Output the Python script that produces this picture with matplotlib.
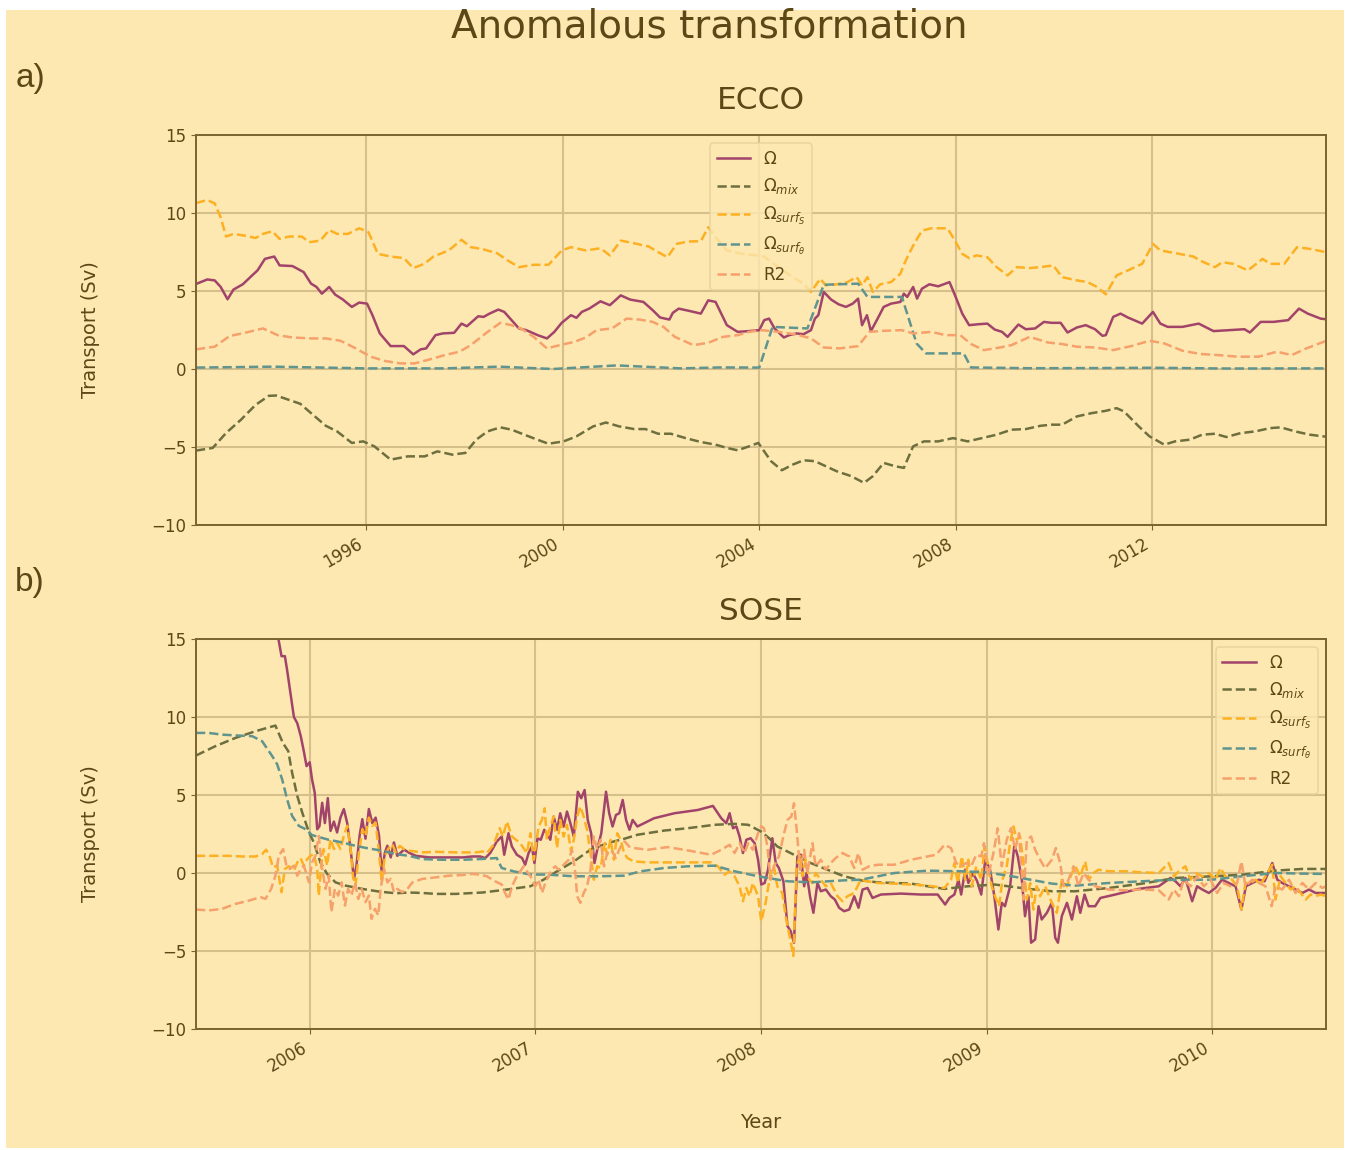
# Anomalous transformation: ECCO and SOSE transport terms
from datetime import datetime, timedelta
import matplotlib
matplotlib.use('Agg')
import matplotlib.pyplot as plt
import matplotlib.dates as mdates
from matplotlib.patches import Rectangle

# ---------------- ECCO (panel a) ----------------
ecco_om_t = [1992.54, 1992.77, 1992.92, 1993.04, 1993.18, 1993.30, 1993.49, 1993.68, 1993.79, 1993.94,
             1994.13, 1994.24, 1994.50, 1994.73, 1994.88, 1994.99, 1995.10, 1995.25, 1995.37, 1995.52,
             1995.71, 1995.86, 1996.02, 1996.13, 1996.28, 1996.50, 1996.77, 1996.96, 1997.11, 1997.22,
             1997.41, 1997.56, 1997.79, 1997.94, 1998.05, 1998.28, 1998.39, 1998.51, 1998.69, 1998.81,
             1999.11, 1999.26, 1999.49, 1999.68, 1999.83, 1999.98, 2000.17, 2000.28, 2000.39, 2000.54,
             2000.77, 2000.96, 2001.18, 2001.37, 2001.64, 2001.83, 2001.98, 2002.17, 2002.24, 2002.36,
             2002.58, 2002.81, 2002.96, 2003.11, 2003.34, 2003.56, 2003.79, 2004.00, 2004.10, 2004.20,
             2004.31, 2004.50, 2004.61, 2004.76, 2004.90, 2005.05, 2005.13, 2005.20, 2005.31, 2005.46,
             2005.61, 2005.76, 2005.90, 2006.01, 2006.09, 2006.19, 2006.27, 2006.39, 2006.53, 2006.68,
             2006.87, 2006.94, 2007.01, 2007.13, 2007.21, 2007.31, 2007.46, 2007.64, 2007.87, 2008.01,
             2008.13, 2008.27, 2008.46, 2008.64, 2008.79, 2008.94, 2009.05, 2009.27, 2009.42, 2009.61,
             2009.79, 2009.94, 2010.13, 2010.27, 2010.46, 2010.64, 2010.83, 2010.98, 2011.05, 2011.20,
             2011.35, 2011.50, 2011.79, 2012.01, 2012.16, 2012.31, 2012.61, 2012.94, 2013.24, 2013.57,
             2013.87, 2013.98, 2014.20, 2014.46, 2014.76, 2014.98, 2015.16, 2015.42, 2015.53]
ecco_om = [5.45, 5.74, 5.68, 5.26, 4.47, 5.09, 5.43, 6.00, 6.32, 7.06,
           7.21, 6.64, 6.60, 6.21, 5.47, 5.26, 4.83, 5.26, 4.77, 4.47,
           3.98, 4.26, 4.19, 3.45, 2.28, 1.47, 1.47, 0.94, 1.26, 1.32,
           2.17, 2.28, 2.32, 2.91, 2.74, 3.38, 3.34, 3.55, 3.81, 3.66,
           2.60, 2.49, 2.17, 1.96, 2.38, 2.96, 3.45, 3.28, 3.66, 3.87,
           4.34, 4.09, 4.72, 4.45, 4.30, 3.77, 3.30, 3.17, 3.60, 3.87,
           3.72, 3.55, 4.40, 4.30, 2.81, 2.38, 2.43, 2.49, 3.13, 3.23,
           2.60, 2.02, 2.17, 2.28, 2.23, 2.49, 3.23, 3.45, 4.94, 4.45,
           4.15, 3.98, 4.19, 4.51, 2.81, 3.45, 2.43, 3.13, 3.98, 4.19,
           4.30, 4.83, 4.62, 5.26, 4.51, 5.15, 5.43, 5.30, 5.57, 4.51,
           3.55, 2.81, 2.87, 2.91, 2.53, 2.38, 2.06, 2.85, 2.55, 2.60,
           3.02, 2.96, 2.96, 2.34, 2.66, 2.81, 2.55, 2.13, 2.17, 3.34,
           3.55, 3.30, 2.91, 3.66, 2.91, 2.70, 2.70, 2.91, 2.43, 2.49,
           2.55, 2.34, 3.02, 3.02, 3.13, 3.87, 3.55, 3.23, 3.19]

ecco_mix_t = [1992.54, 1992.88, 1993.15, 1993.45, 1993.75, 1994.02, 1994.17, 1994.43, 1994.66, 1994.88,
              1995.18, 1995.41, 1995.71, 1995.94, 1996.17, 1996.50, 1996.85, 1997.19, 1997.45, 1997.75,
              1998.02, 1998.24, 1998.47, 1998.73, 1998.96, 1999.22, 1999.45, 1999.71, 2000.02, 2000.28,
              2000.62, 2000.88, 2001.15, 2001.45, 2001.68, 2001.94, 2002.20, 2002.50, 2002.81, 2003.11,
              2003.34, 2003.56, 2003.79, 2003.98, 2004.24, 2004.46, 2004.68, 2004.90, 2005.13, 2005.35,
              2005.57, 2005.87, 2006.13, 2006.31, 2006.53, 2006.76, 2006.94, 2007.13, 2007.35, 2007.64,
              2007.94, 2008.24, 2008.53, 2008.83, 2009.13, 2009.42, 2009.72, 2009.94, 2010.16, 2010.46,
              2010.76, 2011.05, 2011.27, 2011.42, 2011.72, 2011.94, 2012.24, 2012.46, 2012.76, 2013.01,
              2013.27, 2013.50, 2013.79, 2014.09, 2014.39, 2014.61, 2014.90, 2015.20, 2015.53]
ecco_mix = [-5.23, -5.06, -4.10, -3.26, -2.30, -1.72, -1.70, -1.98, -2.23, -2.83,
            -3.64, -4.00, -4.74, -4.64, -4.96, -5.81, -5.60, -5.60, -5.28, -5.49,
            -5.38, -4.53, -4.00, -3.74, -3.89, -4.21, -4.49, -4.79, -4.64, -4.32,
            -3.68, -3.43, -3.68, -3.85, -3.85, -4.15, -4.15, -4.43, -4.68, -4.85,
            -5.06, -5.21, -4.96, -4.74, -5.91, -6.49, -6.13, -5.85, -5.91, -6.23,
            -6.55, -6.87, -7.30, -6.87, -6.02, -6.23, -6.34, -4.96, -4.64, -4.64,
            -4.43, -4.64, -4.43, -4.21, -3.89, -3.85, -3.64, -3.57, -3.57, -3.04,
            -2.83, -2.68, -2.51, -2.72, -3.68, -4.32, -4.85, -4.64, -4.53, -4.21,
            -4.15, -4.36, -4.11, -4.00, -3.79, -3.74, -4.00, -4.21, -4.34]

ecco_ss_t = [1992.54, 1992.77, 1992.92, 1993.04, 1993.15, 1993.30, 1993.53, 1993.75, 1993.90, 1994.09,
             1994.24, 1994.43, 1994.69, 1994.84, 1995.07, 1995.25, 1995.41, 1995.63, 1995.86, 1996.05,
             1996.24, 1996.50, 1996.77, 1996.96, 1997.18, 1997.37, 1997.68, 1997.94, 1998.13, 1998.35,
             1998.66, 1998.88, 1999.11, 1999.41, 1999.71, 1999.98, 2000.17, 2000.47, 2000.77, 2000.96,
             2001.18, 2001.45, 2001.75, 2001.94, 2002.13, 2002.32, 2002.54, 2002.81, 2002.96, 2003.11,
             2003.34, 2003.64, 2003.94, 2004.10, 2004.39, 2004.68, 2004.90, 2005.05, 2005.24, 2005.35,
             2005.57, 2005.79, 2005.98, 2006.09, 2006.20, 2006.31, 2006.46, 2006.68, 2006.87, 2006.98,
             2007.13, 2007.31, 2007.50, 2007.83, 2007.98, 2008.13, 2008.27, 2008.42, 2008.64, 2008.83,
             2009.05, 2009.24, 2009.50, 2009.72, 2009.98, 2010.16, 2010.46, 2010.68, 2010.87, 2011.05,
             2011.27, 2011.50, 2011.79, 2012.01, 2012.16, 2012.46, 2012.83, 2013.01, 2013.27, 2013.42,
             2013.64, 2013.94, 2014.24, 2014.39, 2014.68, 2014.94, 2015.20, 2015.53]
ecco_ss = [10.64, 10.83, 10.62, 9.72, 8.49, 8.66, 8.55, 8.40, 8.66, 8.83,
           8.34, 8.49, 8.49, 8.13, 8.23, 8.91, 8.66, 8.66, 9.02, 8.77,
           7.38, 7.21, 7.11, 6.47, 6.74, 7.21, 7.60, 8.28, 7.81, 7.70,
           7.43, 6.96, 6.53, 6.68, 6.68, 7.60, 7.81, 7.60, 7.74, 7.28,
           8.23, 8.06, 7.85, 7.49, 7.17, 8.02, 8.17, 8.19, 9.09, 8.45,
           7.60, 7.38, 7.28, 7.20, 6.53, 5.89, 5.47, 4.94, 5.79, 5.36,
           5.43, 5.57, 5.89, 5.36, 5.89, 4.94, 5.43, 5.57, 6.11, 6.96,
           7.91, 8.87, 9.02, 9.02, 8.23, 7.38, 7.11, 7.28, 7.17, 6.53,
           6.00, 6.53, 6.47, 6.53, 6.64, 5.89, 5.68, 5.57, 5.26, 4.79,
           6.00, 6.32, 6.74, 8.02, 7.60, 7.43, 7.21, 6.89, 6.53, 6.85,
           6.74, 6.32, 7.06, 6.74, 6.74, 7.81, 7.70, 7.49]

ecco_st_t = [1992.54, 1994.10, 1996.00, 1997.60, 1998.70, 1999.80, 2001.10, 2002.40, 2003.20, 2004.00,
             2004.27, 2004.98, 2005.31, 2006.01, 2006.20, 2006.90, 2007.20, 2007.39, 2008.16, 2008.31,
             2009.50, 2011.00, 2012.00, 2013.50, 2015.53]
ecco_st = [0.09, 0.15, 0.04, 0.04, 0.15, 0.00, 0.23, 0.04, 0.10, 0.09,
           2.70, 2.60, 5.40, 5.47, 4.62, 4.62, 1.64, 1.00, 1.00, 0.10,
           0.05, 0.06, 0.08, 0.03, 0.04]

ecco_r2_t = [1992.54, 1992.92, 1993.22, 1993.53, 1993.90, 1994.20, 1994.50, 1994.88, 1995.18, 1995.48,
             1995.79, 1996.09, 1996.39, 1996.69, 1996.99, 1997.30, 1997.60, 1997.90, 1998.13, 1998.43,
             1998.73, 1998.96, 1999.18, 1999.41, 1999.68, 1999.94, 2000.24, 2000.47, 2000.69, 2001.00,
             2001.30, 2001.56, 2001.83, 2002.05, 2002.28, 2002.66, 2002.96, 2003.26, 2003.56, 2003.79,
             2004.05, 2004.39, 2004.76, 2005.05, 2005.31, 2005.64, 2006.01, 2006.24, 2006.53, 2006.90,
             2007.13, 2007.50, 2007.79, 2008.09, 2008.31, 2008.57, 2008.90, 2009.13, 2009.50, 2009.87,
             2010.16, 2010.46, 2010.83, 2011.20, 2011.57, 2011.94, 2012.24, 2012.61, 2012.98, 2013.35,
             2013.72, 2014.16, 2014.53, 2014.83, 2015.13, 2015.53]
ecco_r2 = [1.26, 1.43, 2.11, 2.32, 2.60, 2.17, 2.02, 1.96, 1.96, 1.81,
           1.32, 0.79, 0.51, 0.36, 0.36, 0.62, 0.89, 1.11, 1.53, 2.28,
           2.96, 2.81, 2.55, 2.06, 1.32, 1.53, 1.74, 2.02, 2.49, 2.60,
           3.23, 3.17, 3.02, 2.70, 2.06, 1.53, 1.68, 2.06, 2.17, 2.38,
           2.49, 2.38, 2.21, 1.96, 1.38, 1.32, 1.47, 2.38, 2.45, 2.49,
           2.28, 2.38, 2.17, 2.17, 1.60, 1.21, 1.38, 1.53, 2.06, 1.70,
           1.60, 1.43, 1.38, 1.21, 1.47, 1.81, 1.64, 1.17, 0.96, 0.89,
           0.79, 0.79, 1.11, 0.89, 1.32, 1.80]

# ---------------- SOSE (panel b) ----------------
sose_om_t = [2005.858, 2005.874, 2005.889, 2005.899, 2005.914, 2005.929, 2005.944, 2005.959, 2005.973, 2005.985,
             2005.999, 2006.010, 2006.022, 2006.033, 2006.043, 2006.055, 2006.067, 2006.080, 2006.092, 2006.107,
             2006.121, 2006.136, 2006.151, 2006.166, 2006.181, 2006.196, 2006.207, 2006.221, 2006.233, 2006.247,
             2006.262, 2006.277, 2006.292, 2006.307, 2006.319, 2006.333, 2006.344, 2006.359, 2006.373, 2006.388,
             2006.403, 2006.418, 2006.440, 2006.470, 2006.530, 2006.600, 2006.680, 2006.720, 2006.755, 2006.778,
             2006.800, 2006.829, 2006.851, 2006.862, 2006.881, 2006.896, 2006.918, 2006.941, 2006.955, 2006.970,
             2006.985, 2006.996, 2007.010, 2007.025, 2007.040, 2007.052, 2007.067, 2007.082, 2007.097, 2007.111,
             2007.126, 2007.141, 2007.156, 2007.171, 2007.189, 2007.204, 2007.219, 2007.233, 2007.248, 2007.263,
             2007.278, 2007.293, 2007.314, 2007.328, 2007.343, 2007.358, 2007.373, 2007.388, 2007.403, 2007.418,
             2007.432, 2007.453, 2007.527, 2007.617, 2007.721, 2007.788, 2007.825, 2007.847, 2007.862, 2007.877,
             2007.892, 2007.906, 2007.921, 2007.936, 2007.955, 2007.973, 2007.988, 2008.003, 2008.018, 2008.033,
             2008.052, 2008.067, 2008.081, 2008.101, 2008.119, 2008.133, 2008.148, 2008.163, 2008.178, 2008.193,
             2008.204, 2008.219, 2008.234, 2008.252, 2008.267, 2008.289, 2008.311, 2008.329, 2008.348, 2008.370,
             2008.393, 2008.415, 2008.434, 2008.452, 2008.474, 2008.496, 2008.533, 2008.622, 2008.711, 2008.785,
             2008.818, 2008.837, 2008.859, 2008.877, 2008.889, 2008.907, 2008.921, 2008.941, 2008.960, 2008.978,
             2008.996, 2009.015, 2009.034, 2009.052, 2009.067, 2009.081, 2009.104, 2009.123, 2009.138, 2009.156,
             2009.170, 2009.185, 2009.197, 2009.215, 2009.230, 2009.244, 2009.267, 2009.289, 2009.304, 2009.316,
             2009.333, 2009.356, 2009.378, 2009.400, 2009.415, 2009.434, 2009.452, 2009.481, 2009.504, 2009.570,
             2009.674, 2009.763, 2009.815, 2009.837, 2009.859, 2009.881, 2009.911, 2009.933, 2009.956, 2009.985,
             2010.015, 2010.044, 2010.074, 2010.104, 2010.130, 2010.150, 2010.178, 2010.207, 2010.233, 2010.267,
             2010.289, 2010.311, 2010.341, 2010.370, 2010.400, 2010.430, 2010.459, 2010.505]
sose_om = [15.2, 13.9, 13.9, 13.0, 11.5, 10.0, 9.6, 8.8, 7.8, 6.85,
           7.1, 6.0, 5.15, 2.8, 3.0, 4.5, 3.2, 4.8, 2.7, 3.3,
           2.6, 3.55, 4.1, 3.2, 1.5, -0.4, 0.47, 2.4, 3.45, 2.2,
           4.1, 3.2, 3.55, 2.4, 0.04, 1.3, 1.75, 1.0, 1.96, 1.1,
           1.3, 1.5, 1.3, 1.1, 1.0, 1.0, 1.0, 1.06, 1.06, 0.96,
           1.28, 2.02, 2.34, 1.17, 2.55, 1.70, 1.17, 0.96, 0.53, 1.28,
           1.70, 0.64, 2.23, 2.13, 2.77, 2.55, 2.13, 3.62, 2.77, 3.83,
           2.98, 3.94, 3.19, 2.34, 5.21, 4.79, 5.32, 3.40, 2.55, 0.64,
           1.70, 2.55, 5.21, 3.83, 2.98, 3.72, 3.83, 4.68, 3.40, 2.77,
           3.40, 2.98, 3.51, 3.83, 4.04, 4.30, 3.51, 3.19, 3.83, 2.87,
           2.98, 2.34, 1.28, 2.13, 2.23, 1.91, 0.85, -0.74, -0.64, 0.21,
           2.23, 0.64, 0.32, -0.53, -3.40, -3.72, -4.47, 1.06, 1.17, -0.85,
           0.00, -1.49, -2.55, -0.64, -1.17, -1.06, -1.49, -1.70, -2.23, -2.45,
           -2.34, -1.49, -2.23, -1.06, -0.96, -1.60, -1.38, -1.32, -1.38, -1.38,
           -2.02, -1.60, -1.38, -0.43, -1.38, 0.21, -0.64, 0.00, -0.53, -1.38,
           0.85, 0.21, -1.49, -3.62, -1.91, -2.13, -0.85, 1.81, 1.06, -0.43,
           -2.77, -1.49, -4.47, -4.26, -2.13, -2.98, -2.55, -1.91, -4.15, -4.47,
           -2.77, -1.91, -2.98, -1.49, -2.55, -1.38, -2.13, -2.13, -1.60, -1.38,
           -1.02, -0.85, -0.32, -0.53, -0.85, -0.32, -1.81, -0.85, -1.06, -1.28,
           -0.96, -0.43, -0.64, -0.85, -2.34, -0.85, -0.64, -0.43, -0.53, 0.64,
           -0.43, -0.64, -0.85, -1.06, -1.28, -1.06, -1.28, -1.28]

sose_mix_t = [2005.495, 2005.581, 2005.670, 2005.759, 2005.810, 2005.847, 2005.880, 2005.904, 2005.921, 2005.944,
              2005.966, 2005.996, 2006.018, 2006.047, 2006.077, 2006.114, 2006.159, 2006.233, 2006.307, 2006.381,
              2006.440, 2006.499, 2006.559, 2006.647, 2006.766, 2006.874, 2006.978, 2007.037, 2007.097, 2007.171,
              2007.245, 2007.319, 2007.394, 2007.453, 2007.572, 2007.676, 2007.795, 2007.884, 2007.944, 2008.003,
              2008.040, 2008.074, 2008.148, 2008.222, 2008.296, 2008.370, 2008.444, 2008.519, 2008.667, 2008.815,
              2008.919, 2009.037, 2009.185, 2009.289, 2009.393, 2009.541, 2009.689, 2009.837, 2010.000, 2010.133,
              2010.281, 2010.400, 2010.505]
sose_mix = [7.53, 8.13, 8.66, 9.09, 9.30, 9.45, 8.34, 7.81, 6.43, 4.94,
            3.87, 2.60, 1.96, 0.68, -0.06, -0.60, -0.81, -1.02, -1.19, -1.30,
            -1.25, -1.28, -1.34, -1.34, -1.25, -1.06, -0.85, -0.43, 0.11, 0.74,
            1.49, 1.91, 2.19, 2.45, 2.72, 2.87, 3.09, 3.15, 3.09, 2.65,
            2.20, 1.70, 1.17, 0.64, 0.21, -0.21, -0.47, -0.60, -0.68, -1.02,
            -0.85, -0.74, -1.02, -1.17, -1.17, -0.96, -0.68, -0.32, -0.21, -0.11,
            0.15, 0.26, 0.26]

sose_ss_t = [2005.495, 2005.581, 2005.640, 2005.699, 2005.759, 2005.788, 2005.806, 2005.821, 2005.836, 2005.855,
             2005.874, 2005.889, 2005.907, 2005.929, 2005.944, 2005.959, 2005.973, 2005.988, 2006.003, 2006.018,
             2006.033, 2006.040, 2006.052, 2006.062, 2006.077, 2006.092, 2006.107, 2006.121, 2006.136, 2006.151,
             2006.166, 2006.181, 2006.191, 2006.203, 2006.218, 2006.233, 2006.247, 2006.262, 2006.277, 2006.292,
             2006.307, 2006.319, 2006.333, 2006.347, 2006.366, 2006.381, 2006.399, 2006.418, 2006.440, 2006.499,
             2006.559, 2006.647, 2006.736, 2006.766, 2006.785, 2006.815, 2006.842, 2006.856, 2006.874, 2006.896,
             2006.933, 2006.963, 2006.978, 2006.993, 2007.015, 2007.030, 2007.042, 2007.052, 2007.067, 2007.082,
             2007.097, 2007.111, 2007.126, 2007.141, 2007.159, 2007.171, 2007.186, 2007.200, 2007.215, 2007.230,
             2007.245, 2007.260, 2007.275, 2007.290, 2007.308, 2007.319, 2007.334, 2007.349, 2007.364, 2007.379,
             2007.394, 2007.409, 2007.438, 2007.498, 2007.646, 2007.780, 2007.810, 2007.839, 2007.862, 2007.884,
             2007.906, 2007.921, 2007.936, 2007.950, 2007.965, 2007.988, 2008.003, 2008.022, 2008.044, 2008.059,
             2008.074, 2008.096, 2008.111, 2008.130, 2008.145, 2008.160, 2008.175, 2008.185, 2008.200, 2008.215,
             2008.230, 2008.244, 2008.267, 2008.289, 2008.311, 2008.341, 2008.363, 2008.385, 2008.415, 2008.444,
             2008.474, 2008.519, 2008.593, 2008.667, 2008.741, 2008.815, 2008.844, 2008.859, 2008.874, 2008.892,
             2008.907, 2008.921, 2008.936, 2008.956, 2008.978, 2008.993, 2009.007, 2009.022, 2009.037, 2009.055,
             2009.070, 2009.089, 2009.104, 2009.119, 2009.133, 2009.148, 2009.163, 2009.178, 2009.193, 2009.207,
             2009.222, 2009.237, 2009.259, 2009.289, 2009.311, 2009.333, 2009.356, 2009.378, 2009.393, 2009.415,
             2009.437, 2009.452, 2009.474, 2009.496, 2009.541, 2009.615, 2009.689, 2009.763, 2009.807, 2009.830,
             2009.852, 2009.881, 2009.904, 2009.926, 2009.956, 2009.985, 2010.015, 2010.037, 2010.059, 2010.089,
             2010.111, 2010.130, 2010.148, 2010.170, 2010.193, 2010.215, 2010.237, 2010.267, 2010.281, 2010.304,
             2010.326, 2010.348, 2010.370, 2010.393, 2010.415, 2010.437, 2010.459, 2010.481, 2010.505]
sose_ss = [1.10, 1.10, 1.10, 1.06, 1.06, 1.21, 1.49, 1.10, 0.36, 0.47,
           -1.23, 0.26, 0.43, 0.15, 0.68, 0.94, 0.47, 0.89, 1.10, 1.21,
           0.26, -1.45, 0.68, 1.53, 0.47, 2.17, 1.53, 1.96, 1.53, 2.38,
           3.02, 1.53, -0.17, -0.81, 1.32, 2.81, 2.38, 3.55, 3.02, 3.23,
           1.32, -0.60, 1.10, 1.53, 1.85, 1.32, 1.74, 1.53, 1.43, 1.32,
           1.36, 1.32, 1.32, 1.38, 1.28, 1.81, 2.87, 2.34, 3.30, 2.34,
           1.91, 1.28, 2.55, 0.85, 2.98, 3.40, 4.15, 2.13, 2.98, 3.62,
           1.60, 3.40, 2.34, 3.09, 1.38, 2.13, 3.62, 4.26, 3.62, 2.77,
           1.28, -0.43, 0.43, 0.32, 1.91, 1.17, 2.13, 0.85, 2.55, 2.13,
           1.28, 0.96, 0.74, 0.68, 0.68, 0.68, 0.43, -0.11, 0.11, -0.21,
           -0.85, -1.81, -0.96, -1.49, -0.64, -1.49, -3.09, -1.91, 0.00, 0.43,
           -0.85, -1.28, -2.77, -4.15, -5.32, 0.43, 1.17, -0.21, 0.85, -0.43,
           -0.64, 0.00, -0.43, -0.85, -0.64, -1.49, -1.81, -1.49, -1.28, -0.43,
           -0.53, -0.64, -0.68, -0.74, -0.81, -0.96, -0.43, 0.64, -0.64, 1.06,
           -0.43, 0.85, -0.85, 0.43, -0.43, 1.70, 0.43, -0.85, -1.49, -2.13,
           -0.43, 0.43, 1.91, 2.98, 2.13, 2.34, 0.64, -1.70, -0.64, -2.34,
           -0.85, -1.49, -0.85, -1.91, -2.55, -0.43, -0.85, 0.00, 0.43, -0.21,
           0.74, -0.43, 0.00, 0.21, 0.11, 0.11, 0.04, 0.00, 0.64, -0.21,
           0.11, 0.43, -0.43, 0.00, -0.21, 0.00, -0.43, 0.32, -0.21, -0.43,
           -0.85, -2.34, -0.64, -0.64, -0.43, -0.74, -0.21, 0.53, -1.70, -0.21,
           -0.64, -1.06, -0.85, -1.28, -1.70, -1.38, -1.49, -1.38, -1.49]

sose_st_t = [2005.495, 2005.551, 2005.610, 2005.684, 2005.744, 2005.788, 2005.833, 2005.855, 2005.877, 2005.899,
             2005.921, 2005.951, 2005.981, 2006.010, 2006.047, 2006.084, 2006.144, 2006.203, 2006.262, 2006.321,
             2006.381, 2006.440, 2006.499, 2006.588, 2006.677, 2006.766, 2006.829, 2006.851, 2006.903, 2006.978,
             2007.052, 2007.171, 2007.290, 2007.394, 2007.468, 2007.572, 2007.676, 2007.795, 2007.884, 2007.988,
             2008.119, 2008.222, 2008.370, 2008.444, 2008.593, 2008.741, 2008.889, 2009.000, 2009.111, 2009.289,
             2009.393, 2009.541, 2009.689, 2009.837, 2010.000, 2010.133, 2010.281, 2010.400, 2010.505]
sose_st = [8.98, 8.98, 8.87, 8.81, 8.77, 8.45, 7.49, 6.96, 6.00, 4.72,
           3.66, 3.02, 2.81, 2.43, 2.28, 2.13, 1.96, 1.74, 1.57, 1.43,
           1.21, 1.10, 0.89, 0.85, 0.85, 0.90, 0.96, 0.32, 0.11, -0.10,
           -0.10, -0.21, -0.21, -0.17, 0.11, 0.32, 0.43, 0.47, 0.11, -0.21,
           -0.53, -0.60, -0.47, -0.43, 0.00, 0.15, 0.11, 0.04, -0.21, -0.68,
           -0.81, -0.64, -0.53, -0.43, -0.43, -0.21, 0.00, -0.04, -0.06]

sose_r2_t = [2005.495, 2005.551, 2005.610, 2005.670, 2005.729, 2005.781, 2005.803, 2005.828, 2005.847, 2005.862,
             2005.881, 2005.896, 2005.910, 2005.929, 2005.944, 2005.959, 2005.973, 2005.996, 2006.010, 2006.025,
             2006.040, 2006.055, 2006.070, 2006.084, 2006.096, 2006.111, 2006.126, 2006.141, 2006.156, 2006.170,
             2006.185, 2006.200, 2006.215, 2006.230, 2006.247, 2006.262, 2006.274, 2006.289, 2006.304, 2006.314,
             2006.329, 2006.344, 2006.359, 2006.373, 2006.388, 2006.410, 2006.433, 2006.455, 2006.499, 2006.559,
             2006.618, 2006.677, 2006.721, 2006.755, 2006.785, 2006.822, 2006.851, 2006.866, 2006.881, 2006.896,
             2006.918, 2006.948, 2006.978, 2007.000, 2007.015, 2007.030, 2007.045, 2007.059, 2007.074, 2007.089,
             2007.104, 2007.119, 2007.134, 2007.149, 2007.163, 2007.178, 2007.186, 2007.200, 2007.215, 2007.230,
             2007.245, 2007.260, 2007.275, 2007.290, 2007.305, 2007.319, 2007.337, 2007.357, 2007.379, 2007.397,
             2007.416, 2007.438, 2007.498, 2007.587, 2007.676, 2007.780, 2007.825, 2007.862, 2007.884, 2007.906,
             2007.929, 2007.944, 2007.965, 2007.988, 2008.003, 2008.015, 2008.030, 2008.044, 2008.059, 2008.081,
             2008.104, 2008.119, 2008.136, 2008.148, 2008.160, 2008.175, 2008.193, 2008.207, 2008.230, 2008.244,
             2008.267, 2008.289, 2008.311, 2008.333, 2008.363, 2008.393, 2008.415, 2008.433, 2008.452, 2008.481,
             2008.519, 2008.593, 2008.667, 2008.741, 2008.778, 2008.815, 2008.844, 2008.867, 2008.889, 2008.911,
             2008.933, 2008.956, 2008.978, 2008.990, 2009.007, 2009.030, 2009.049, 2009.067, 2009.089, 2009.108,
             2009.126, 2009.144, 2009.163, 2009.178, 2009.197, 2009.215, 2009.237, 2009.259, 2009.289, 2009.307,
             2009.326, 2009.341, 2009.363, 2009.385, 2009.407, 2009.430, 2009.452, 2009.481, 2009.541, 2009.615,
             2009.689, 2009.763, 2009.807, 2009.830, 2009.852, 2009.874, 2009.904, 2009.933, 2009.963, 2009.993,
             2010.022, 2010.052, 2010.081, 2010.111, 2010.130, 2010.148, 2010.178, 2010.207, 2010.237, 2010.264,
             2010.281, 2010.311, 2010.341, 2010.370, 2010.400, 2010.430, 2010.459, 2010.489, 2010.505]
sose_r2 = [-2.34, -2.40, -2.30, -1.98, -1.77, -1.55, -1.66, -1.02, -0.17, 1.10,
           1.53, 0.47, 0.26, 0.47, -0.17, 0.26, 0.47, -0.60, 0.68, 1.10,
           2.38, 0.26, -1.02, -0.17, -2.51, -1.02, -1.45, -0.60, -2.09, -1.02,
           -1.45, -0.60, -1.66, -1.02, -1.87, -1.45, -2.94, -2.30, -2.72, -1.02,
           0.26, -0.60, -0.38, -1.23, -1.02, -1.23, -1.02, -0.60, -0.38, -0.28,
           -0.17, -0.13, -0.06, -0.11, -0.21, -0.53, -0.74, -1.28, -1.70, -0.85,
           -0.21, 0.43, -0.21, -0.85, -0.43, -1.28, -0.64, -0.21, 0.21, 0.43,
           0.21, 0.43, 0.64, 0.85, 1.49, 0.00, -1.49, -1.91, -1.28, -0.85,
           0.21, 2.34, 1.49, 2.13, 0.43, 1.28, 1.49, 0.96, 1.70, 2.02,
           1.70, 1.60, 1.49, 1.66, 1.45, 1.17, 1.49, 1.81, 1.28, 1.91,
           1.28, 1.91, 1.49, 2.55, 3.00, 2.87, 1.70, -0.43, 0.43, 1.06,
           2.55, 3.40, 3.62, 4.47, 2.77, 0.21, 1.49, 0.00, 1.91, 0.43,
           0.85, 0.21, 0.64, 0.96, 1.28, 1.06, 0.32, 1.28, 0.21, 0.43,
           0.53, 0.53, 0.85, 1.06, 1.17, 1.81, 1.60, 0.64, 0.43, 0.64,
           0.43, 1.17, 1.06, 1.91, -0.21, 1.28, 2.87, 0.43, 2.13, 2.87,
           1.49, 2.55, -1.70, 2.13, 2.34, 1.49, 0.85, 0.30, 0.85, 1.60,
           0.64, -0.85, -0.43, 0.43, -0.85, 0.00, -0.43, -0.85, -1.06, -1.11,
           -1.06, -1.11, -1.70, -1.06, -1.49, -0.43, -0.85, -0.21, -0.85, -0.43,
           -1.28, -0.64, -0.85, -0.64, 0.74, -0.85, -0.43, -0.64, -0.85, -2.13,
           -0.85, -1.06, -0.43, -1.28, -0.64, -1.06, -0.64, -0.96, -0.85]

labels = [r'$\Omega$', r'$\Omega_{mix}$', r'$\Omega_{surf_S}$', r'$\Omega_{surf_\theta}$', 'R2']
colors = ['#a2446a', '#6e6f3e', '#fcb022', '#5f948f', '#f6a06b']
styles = ['-', '--', '--', '--', '--']

bg = '#fde8b2'
ink = '#5c4816'
grid_c = '#d7bf8b'
spine_c = '#7a6330'


def to_dates(years):
    return [datetime(int(y), 1, 1) + timedelta(days=(y - int(y)) * 365.25) for y in years]


def draw_panel(ax, series, title, pad, year_step, legend_loc):
    for (t, v), lab, col, ls in zip(series, labels, colors, styles):
        ax.plot(to_dates(t), v, ls, color=col, lw=1.8, label=lab)
    start = min(s[0][0] for s in series)
    stop = max(s[0][-1] for s in series)
    ax.set_xlim(to_dates([start, stop]))
    ax.set_ylim(-10, 15)
    ax.set_yticks([-10, -5, 0, 5, 10, 15])
    ax.xaxis.set_major_locator(mdates.YearLocator(year_step))
    ax.xaxis.set_major_formatter(mdates.DateFormatter('%Y'))
    for lab in ax.get_xticklabels():
        lab.set_rotation(30)
        lab.set_ha('right')
    ax.set_facecolor(bg)
    ax.grid(True, color=grid_c, lw=1.5)
    for sp in ax.spines.values():
        sp.set_color(spine_c)
        sp.set_linewidth(1.4)
    ax.tick_params(colors=spine_c, labelcolor=ink, labelsize=12)
    ax.set_title(title, fontsize=22.5, color=ink, pad=pad)
    ax.set_ylabel('Transport (Sv)', fontsize=14, color=ink)
    ax.yaxis.set_label_coords(-0.085, 0.5)
    leg = ax.legend(loc=legend_loc, fontsize=12, facecolor=bg, edgecolor='#e6d19c', labelcolor=ink)
    leg.get_frame().set_linewidth(1.2)


fig = plt.figure(figsize=(13.46, 11.5), dpi=100, facecolor='white')
fig.patches.append(Rectangle((6 / 1346, 2 / 1150), 1338 / 1346, 1138 / 1150,
                             transform=fig.transFigure, facecolor=bg, edgecolor='none', zorder=-10))

ax1 = fig.add_axes([196 / 1346, 1 - 525 / 1150, 1130 / 1346, 390 / 1150])
ax2 = fig.add_axes([196 / 1346, 1 - 1029 / 1150, 1130 / 1346, 390 / 1150])

ecco = [(ecco_om_t, ecco_om), (ecco_mix_t, ecco_mix), (ecco_ss_t, ecco_ss), (ecco_st_t, ecco_st), (ecco_r2_t, ecco_r2)]
sose = [(sose_om_t, sose_om), (sose_mix_t, sose_mix), (sose_ss_t, sose_ss), (sose_st_t, sose_st), (sose_r2_t, sose_r2)]

draw_panel(ax1, ecco, 'ECCO', 19, 4, 'upper center')
draw_panel(ax2, sose, 'SOSE', 14, 1, 'upper right')
ax2.set_xlabel('Year', fontsize=14, color=ink)
ax2.xaxis.set_label_coords(0.5, -0.215)

fig.text(709 / 1346, 1 - 38 / 1150, 'Anomalous transformation', ha='center', va='baseline',
         fontsize=28, color=ink)
fig.text(16 / 1346, 1 - 78 / 1150, 'a)', ha='left', va='center', fontsize=24, color=ink,
         family='Liberation Sans')
fig.text(15 / 1346, 1 - 583 / 1150, 'b)', ha='left', va='center', fontsize=24, color=ink,
         family='Liberation Sans')

fig.savefig('out.png', dpi=100, facecolor=fig.get_facecolor())
